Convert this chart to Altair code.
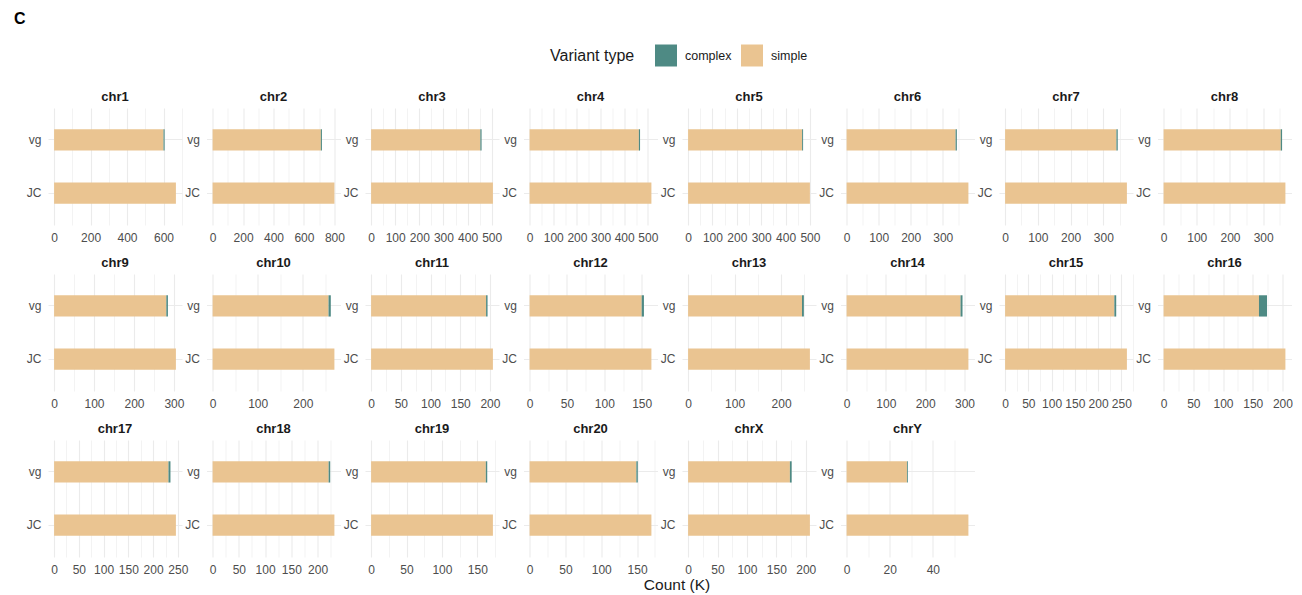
import altair as alt
import pandas as pd
import numpy as np

# ---------------- data (counts in thousands) ----------------
chroms = ["chr1", "chr2", "chr3", "chr4", "chr5", "chr6", "chr7", "chr8",
          "chr9", "chr10", "chr11", "chr12", "chr13", "chr14", "chr15", "chr16",
          "chr17", "chr18", "chr19", "chr20", "chrX", "chrY"]
jc_simple = [668, 800, 505, 515, 500, 380, 372, 367,
             305, 270, 205, 163, 262, 310, 262, 205,
             246, 232, 172, 170, 207, 56.5]
vg_simple = [600, 711, 453, 462, 468, 340, 340, 353,
             281, 257, 193.5, 150, 245, 290, 235, 160.5,
             231, 221, 162, 149, 173, 28]
vg_complex = [6, 7, 5, 5, 4, 4, 4, 4,
              4, 5, 2.5, 3, 4, 5, 4, 13.5,
              4, 3, 2, 2, 3, 0.4]
tick_steps = [200, 200, 100, 100, 100, 100, 100, 100,
              100, 100, 50, 50, 100, 100, 50, 50,
              50, 50, 50, 50, 50, 20]
methods = ["vg", "JC"]
types = ["complex", "simple"]
type_colors = ["#4E8A84", "#EAC491"]

FONT = "Liberation Sans"
PW, PH = 134, 117
NCOL = 8

panels = []
for i, chrom in enumerate(chroms):
    df = pd.DataFrame({
        "method": ["vg", "vg", "JC"],
        "type": ["simple", "complex", "simple"],
        "count": [vg_simple[i], vg_complex[i], jc_simple[i]],
        "stack": [0, 1, 0],
    })
    top = max(jc_simple[i], vg_simple[i] + vg_complex[i])
    lo, hi = -0.05 * top, 1.05 * top
    step = tick_steps[i]
    half = step / 2
    ticks = [float(v) for v in np.arange(0, hi, half)]

    axis_kw = dict(
        values=ticks,
        labelExpr=f"datum.value % {step} === 0 ? format(datum.value, 'd') : ''",
        grid=True,
        gridColor="#EBEBEB",
        gridWidth={"condition": {"test": f"datum.value % {step} === 0", "value": 1.1},
                   "value": 0.6},
        ticks=False,
        domain=False,
        labelFontSize=12,
        labelColor="#4D4D4D",
        labelPadding=7,
        labelOverlap=False,
        labelFlush=False,
        title=None,
    )
    if chrom == "chr20":
        axis_kw.update(title="Count (K)", titleX=153, titleFontSize=15.5,
                       titleFontWeight="normal", titleColor="#1A1A1A",
                       titlePadding=2)

    chart = alt.Chart(df).mark_bar().encode(
        x=alt.X("count:Q", stack="zero",
                scale=alt.Scale(domain=[lo, hi], nice=False, zero=False),
                axis=alt.Axis(**axis_kw)),
        y=alt.Y("method:N", sort=methods,
                scale=alt.Scale(domain=methods, paddingInner=0.6, paddingOuter=0.4),
                axis=alt.Axis(title=None, ticks=False, domain=False, grid=True,
                              gridColor="#EBEBEB", gridWidth=1.1, bandPosition=0.5,
                              labelFontSize=12, labelColor="#4D4D4D",
                              labelPadding=7)),
        color=alt.Color("type:N",
                        scale=alt.Scale(domain=types, range=type_colors),
                        legend=alt.Legend(title="Variant type", orient="none",
                                          legendX=502, legendY=-63.5,
                                          direction="horizontal",
                                          titleOrient="left",
                                          titleFontSize=16,
                                          titleFontWeight="normal",
                                          titleColor="#1A1A1A",
                                          titlePadding=20,
                                          labelFontSize=12.5,
                                          labelColor="#1A1A1A",
                                          labelOffset=8,
                                          columnPadding=9,
                                          symbolType="square",
                                          symbolSize=484,
                                          symbolStrokeWidth=0,
                                          symbolOpacity=1)),
        order=alt.Order("stack:Q", sort="ascending"),
    ).properties(
        width=PW, height=PH,
        title=alt.TitleParams(chrom, fontSize=13, fontWeight="bold", font=FONT,
                              color="#1A1A1A", anchor="middle", frame="group",
                              offset=4),
    )
    panels.append(chart)

chart = alt.concat(
    *panels, columns=NCOL, spacing={"row": 49, "column": 24.5}, bounds="flush",
    title=alt.TitleParams("C", anchor="start", frame="group", dx=-34,
                          fontSize=16, fontWeight="bold", font=FONT,
                          color="#000000", offset=17.5),
).properties(
    padding={"left": 6, "top": 3, "right": 0, "bottom": 0},
    background="white",
).configure_view(
    stroke=None,
).configure_axis(
    labelFont=FONT, titleFont=FONT,
).configure_legend(
    labelFont=FONT, titleFont=FONT,
).configure_title(
    font=FONT,
)

chart.save("out.html", embed_options={"renderer": "svg", "actions": False})
